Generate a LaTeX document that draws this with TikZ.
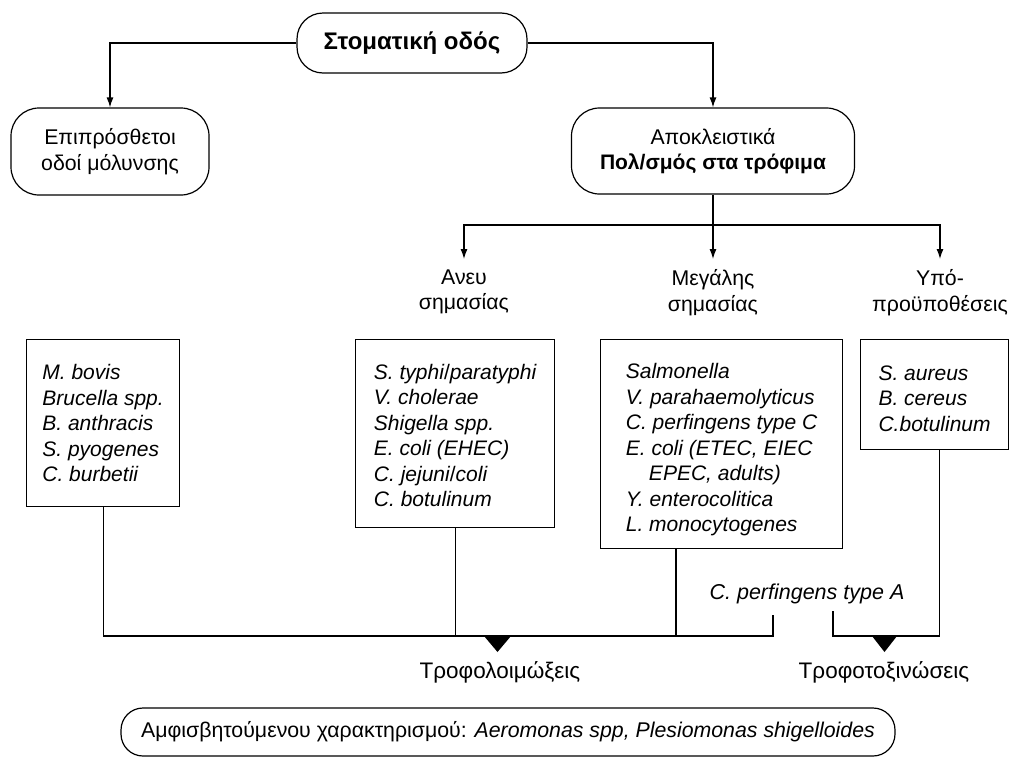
\documentclass[tikz,border=0pt]{standalone}
\usepackage{fontspec}
\setmainfont{Liberation Sans}
\usetikzlibrary{arrows.meta,calc}
\begin{document}
\begin{tikzpicture}[x=1pt,y=-1pt,line width=1.2pt,
  font=\fontsize{21.3}{25.5}\selectfont,
  arr/.style={-{Latex[length=10pt,width=7pt]}},
  rbox/.style={draw,rounded corners=28pt,align=center,inner sep=0pt},
  sbox/.style={draw,align=left,inner sep=0pt,anchor=north west,font=\fontsize{21}{25.5}\selectfont\itshape},
  lbl/.style={align=center,inner sep=0pt,anchor=north},
  tri/.style={fill=black,draw=none}]
\useasboundingbox (0,0) rectangle (1012,758);
% top level
\node[rbox,rounded corners=26pt,minimum width=230,minimum height=60,font=\fontsize{24}{28}\selectfont\bfseries] (top) at (412,43) {Στοματική οδός};
\node[rbox,minimum width=198,minimum height=87] (add) at (110,151.5) {Επιπρόσθετοι\\οδοί μόλυνσης};
\node[rbox,minimum width=283,minimum height=86] (excl) at (713,151) {Αποκλειστικά\\{\fontsize{21}{25.5}\selectfont\bfseries Πολ/σμός στα τρόφιμα}};
\draw[arr] (top.west) -| (add.north);
\draw[arr] (top.east) -| (excl.north);
% second level labels
\node[lbl] (ane) at (464,269) {Ανευ\\σημασίας};
\node[lbl] (meg) at (713,269) {Μεγάλης\\σημασίας};
\node[lbl] (ypo) at (940,269) {Υπό-\\προϋποθέσεις};
\coordinate (bar) at (713,225);
\draw[arr,shorten >=10pt] (excl.south) -- (meg.north);
\draw[arr,shorten >=10pt] (bar) -| (ane.north);
\draw[arr,shorten >=10pt] (bar) -| (ypo.north);
% boxes
\node[sbox,minimum width=153,minimum height=167] (b1) at (26,339) {M. bovis\\Brucella spp.\\B. anthracis\\S. pyogenes\\C. burbetii};
\node[sbox,minimum width=199,minimum height=188] (b2) at (355,339) {\rule{0pt}{19pt}S. typhi{\upshape/}paratyphi\\V. cholerae\\Shigella spp.\\E. coli (EHEC)\\C. jejuni{\upshape/}coli\\C. botulinum};
\node[sbox,minimum width=242,minimum height=209] (b3) at (600,339) {\rule{0pt}{27pt}Salmonella\\V. parahaemolyticus\\C. perfingens type C\\E. coli (ETEC, EIEC\\\hspace*{1.1em}EPEC, adults)\\Y. enterocolitica\\L. monocytogenes};
\node[sbox,minimum width=148,minimum height=110] (b4) at (860,339) {\rule{0pt}{22pt}S. aureus\\B. cereus\\C.botulinum};
% bottom connectors
\coordinate (jl) at (773,615);
\coordinate (cl) at (773,636);
\coordinate (jr) at (833,611);
\coordinate (cr) at (833,636);
\draw (b1.south) |- (cl) -- (jl);
\draw (b2.south) -- (b2.south |- cl);
\draw ([xshift=76pt]b3.south west) -- ([xshift=76pt]b3.south west |- cl);
\draw (jr) -- (cr) -| ([xshift=5pt]b4.south);
\node[font=\fontsize{21.5}{25.5}\selectfont\itshape,inner sep=0pt] (cpa) at (807,594) {C. perfingens type A};
% triangles
\coordinate (t1) at (497.5,636);
\coordinate (t2) at (884.5,636);
\fill[tri] ([xshift=-13.5pt]t1) -- ([xshift=13.5pt]t1) -- ([yshift=-16pt]t1) -- cycle;
\fill[tri] ([xshift=-12.5pt]t2) -- ([xshift=12.5pt]t2) -- ([yshift=-16pt]t2) -- cycle;
\node[inner sep=0pt,font=\fontsize{22.5}{26}\selectfont] (inf) at (500,672) {Τροφολοιμώξεις};
\node[inner sep=0pt,font=\fontsize{22.5}{26}\selectfont] (tox) at (884,672) {Τροφοτοξινώσεις};
% bottom pill
\node[draw,rounded corners=22pt,minimum width=774,minimum height=48,inner sep=0pt] (amf) at (508,732) {Αμφισβητούμενου χαρακτηρισμού: \textit{Aeromonas spp, Plesiomonas shigelloides}};
\end{tikzpicture}
\end{document}
